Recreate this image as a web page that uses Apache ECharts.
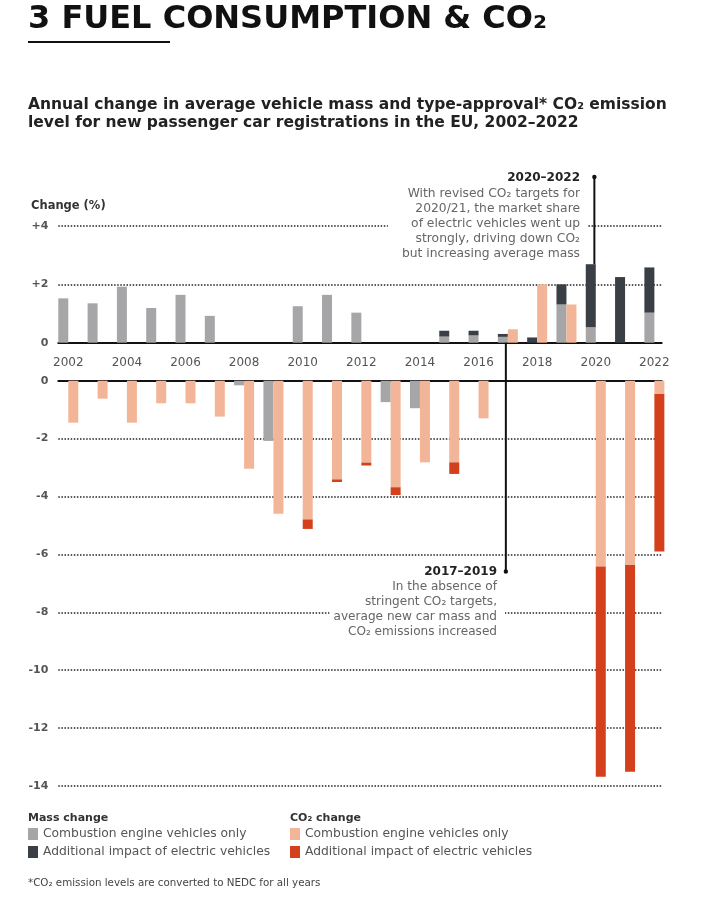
<!DOCTYPE html>
<html><head><meta charset="utf-8">
<script src="https://cdn.jsdelivr.net/npm/echarts@6/dist/echarts.min.js"></script>
<style>html,body{margin:0;padding:0;background:#fff}#c{width:718px;height:914px}</style>
</head><body><div id="c"></div>
<script>
// ---- data ----
const years = [2002,2003,2004,2005,2006,2007,2008,2009,2010,2011,2012,2013,2014,2015,2016,2017,2018,2019,2020,2021,2022];
const yearTicks = [2002,2004,2006,2008,2010,2012,2014,2016,2018,2020,2022];
const massIce = [1.52,1.35,1.92,1.19,1.64,0.92,-0.16,-2.08,1.25,1.64,1.03,-0.74,-0.95,0.21,0.25,0.20,0,1.31,0.53,0,1.03];
const massEv  = [0,0,0,0,0,0,0,0,0,0,0,0,0,0.20,0.16,0.10,0.18,0.69,2.16,2.25,1.55];
const co2Ice  = [-1.45,-0.62,-1.45,-0.78,-0.78,-1.24,-3.04,-4.60,-4.79,-3.41,-2.83,-3.68,-2.82,-2.82,-1.30,0.46,2.00,1.31,-6.42,-6.37,-0.46];
const co2Ev   = [0,0,0,0,0,0,0,0,-0.33,-0.09,-0.10,-0.27,0,-0.40,0,0,0,0,-7.26,-7.14,-5.44];
const legendLabels = {
  massIce: 'Combustion engine vehicles only',
  massEv: 'Additional impact of electric vehicles',
  co2Ice: 'Combustion engine vehicles only',
  co2Ev: 'Additional impact of electric vehicles'
};

const FONT = 'DejaVu Sans';
const COL = {massIce:'#a6a6a8', massEv:'#3a3f46', co2Ice:'#f2b597', co2Ev:'#d4401b'};
// value first so that the stack runs on the value (y) dimension
const pairs = arr => years.map((y, i) => [arr[i], y]);

function bar(name, arr, stack, gi) {
  return {
    name, type: 'bar', xAxisIndex: gi, yAxisIndex: gi, stack: stack + gi,
    data: pairs(arr), encode: {x: 1, y: 0}, barWidth: 10, barGap: '0%', clip: true,
    itemStyle: {color: COL[name]}, emphasis: {disabled: true}, silent: true
  };
}

const series = [];
[0, 1].forEach(gi => {
  series.push(bar('massIce', massIce, 'mass', gi));
  series.push(bar('massEv', massEv, 'mass', gi));
  series.push(bar('co2Ice', co2Ice, 'co2', gi));
  series.push(bar('co2Ev', co2Ev, 'co2', gi));
});

const XMIN = 2001.659, XMAX = 2022.25;
const split = {show: true, lineStyle: {type: [1.5, 1.6], color: '#222', width: 1.5}};
const ylab = {fontFamily: FONT, fontWeight: 'bold', fontSize: 11, color: '#555', margin: 10};

const chart = echarts.init(document.getElementById('c'), null, {renderer: 'canvas'});
chart.setOption({
  animation: false,
  backgroundColor: '#fff',
  grid: [
    {left: 58.3, top: 226, width: 603.4, height: 116.7},
    {left: 58.3, top: 380.7, width: 603.4, height: 405.3}
  ],
  xAxis: [
    {gridIndex: 0, type: 'value', min: XMIN, max: XMAX,
     axisLine: {onZero: true, lineStyle: {color: '#111', width: 2}},
     axisTick: {show: false}, splitLine: {show: false},
     axisLabel: {customValues: yearTicks, formatter: v => String(v), margin: 14,
                 fontFamily: FONT, fontSize: 12, color: '#555'}},
    {gridIndex: 1, type: 'value', min: XMIN, max: XMAX,
     axisLine: {onZero: true, lineStyle: {color: '#111', width: 2}},
     axisTick: {show: false}, splitLine: {show: false}, axisLabel: {show: false}}
  ],
  yAxis: [
    {gridIndex: 0, type: 'value', min: 0, max: 4, interval: 2,
     axisLine: {show: false}, axisTick: {show: false}, splitLine: split,
     axisLabel: Object.assign({formatter: v => v > 0 ? '+' + v : String(v)}, ylab)},
    {gridIndex: 1, type: 'value', min: -14, max: 0, interval: 2,
     axisLine: {show: false}, axisTick: {show: false}, splitLine: split,
     axisLabel: Object.assign({formatter: v => String(v)}, ylab)}
  ],
  legend: [
    {data: ['massIce', 'massEv'], orient: 'vertical', left: 28, top: 828, icon: 'rect',
     itemWidth: 10, itemHeight: 12, itemGap: 6, padding: 0, selectedMode: false,
     formatter: n => legendLabels[n], textStyle: {fontFamily: FONT, fontSize: 12.3, color: '#555'}},
    {data: ['co2Ice', 'co2Ev'], orient: 'vertical', left: 290, top: 828, icon: 'rect',
     itemWidth: 10, itemHeight: 12, itemGap: 6, padding: 0, selectedMode: false,
     formatter: n => legendLabels[n], textStyle: {fontFamily: FONT, fontSize: 12.3, color: '#555'}}
  ],
  series
});

// ---- annotations & texts ----
const px = (gi, x, y) => chart.convertToPixel({xAxisIndex: gi, yAxisIndex: gi}, [x, y]);
const i2020 = years.indexOf(2020);
const top2020 = px(0, 2020, massIce[i2020] + massEv[i2020]);
const zeroTop = px(0, 2017, 0);
const x2020 = top2020[0] - 1.4;
const x2017 = zeroTop[0] - 2;

const T = (x, y, text, font, fill, extra) => ({
  type: 'text', x, y, z: 100,
  style: Object.assign({text, font, fill, verticalAlign: 'middle'}, extra || {})
});

const graphics = [
  T(28, 19.5, '3 FUEL CONSUMPTION & CO₂', 'bold 32px ' + FONT, '#111'),
  {type: 'line', z: 100, shape: {x1: 28, y1: 42, x2: 170, y2: 42}, style: {stroke: '#111', lineWidth: 2}},
  T(28, 96, 'Annual change in average vehicle mass and type-approval* CO₂ emission\nlevel for new passenger car registrations in the EU, 2002–2022',
    'bold 15.5px ' + FONT, '#222', {verticalAlign: 'top', lineHeight: 18}),
  T(31, 206, 'Change (%)', 'bold 11.5px ' + FONT, '#333'),
  // annotation 2020-2022
  T(580, 177.5, '2020–2022', 'bold 12px ' + FONT, '#222', {align: 'right'}),
  T(587, 186, 'With revised CO₂ targets for\n2020/21, the market share\nof electric vehicles went up\nstrongly, driving down CO₂\nbut increasing average mass',
    '12.3px ' + FONT, '#666', {align: 'right', verticalAlign: 'top', lineHeight: 15,
    backgroundColor: '#fff', padding: [0, 7, 0, 14]}),
  {type: 'line', z: 101, shape: {x1: x2020, y1: 177, x2: x2020, y2: top2020[1]}, style: {stroke: '#111', lineWidth: 2}},
  {type: 'circle', z: 101, shape: {cx: x2020, cy: 177, r: 2.2}, style: {fill: '#111'}},
  // annotation 2017-2019
  T(497, 571.5, '2017–2019', 'bold 12px ' + FONT, '#222', {align: 'right'}),
  T(505, 580, 'In the absence of\nstringent CO₂ targets,\naverage new car mass and\nCO₂ emissions increased',
    '12.1px ' + FONT, '#666', {align: 'right', verticalAlign: 'top', lineHeight: 14.7,
    backgroundColor: '#fff', padding: [0, 8, 0, 4]}),
  {type: 'line', z: 101, shape: {x1: x2017, y1: zeroTop[1], x2: x2017, y2: 571.5}, style: {stroke: '#111', lineWidth: 2}},
  {type: 'circle', z: 101, shape: {cx: x2017, cy: 571.5, r: 2.2}, style: {fill: '#111'}},
  // legend headers and footnote
  T(28, 818, 'Mass change', 'bold 11px ' + FONT, '#333'),
  T(290, 818, 'CO₂ change', 'bold 11px ' + FONT, '#333'),
  T(28, 883, '*CO₂ emission levels are converted to NEDC for all years', '10.3px ' + FONT, '#444')
];
chart.setOption({graphic: graphics});
</script></body></html>
